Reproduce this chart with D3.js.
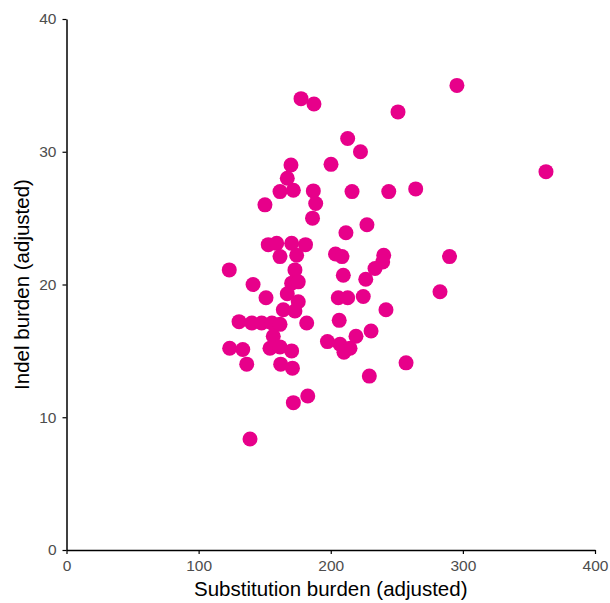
<!DOCTYPE html>
<html><head><meta charset="utf-8">
<script src="https://cdn.jsdelivr.net/npm/d3@7/dist/d3.min.js"></script>
<style>
body{margin:0;background:#fff;}
svg{display:block;font-family:"Liberation Sans",Arial,Helvetica,sans-serif;}
</style></head>
<body>
<svg id="chart" width="610" height="603"></svg>
<script>
const substitution = [177.5,187.3,295.5,250.9,212.8,222.5,200.2,362.9,169.9,167.1,161.6,171.7,186.8,216.1,243.9,264.3,150.2,188.6,186.2,227.4,211.5,152.7,159.1,170.4,180.9,161.6,174.2,203.6,208.5,240.1,239.3,233.5,289.9,123.2,172.9,209.5,226.5,170.4,175.4,141.2,282.7,151.0,167.1,175.4,205.7,212.8,224.6,164.1,172.9,241.8,130.6,140.2,147.7,155.5,161.6,181.8,206.4,156.5,230.5,197.5,219.1,123.5,133.4,154.0,161.6,170.4,207.0,214.6,210.0,136.4,162.1,171.0,257.0,229.2,171.7,182.6,138.9];
const indel = [34.0,33.6,35.0,33.0,31.0,30.0,29.05,28.5,29.0,28.0,27.0,27.1,27.05,27.0,27.0,27.2,26.0,26.1,25.0,24.5,23.9,23.0,23.1,23.1,23.0,22.1,22.2,22.3,22.1,22.2,21.7,21.2,22.1,21.1,21.1,20.7,20.4,20.1,20.2,20.0,19.45,19.0,19.3,18.7,19.0,19.0,19.1,18.1,18.0,18.1,17.2,17.1,17.1,17.1,17.0,17.1,17.3,16.1,16.5,15.7,16.1,15.2,15.1,15.2,15.3,15.0,15.5,15.2,14.9,14.0,14.0,13.7,14.1,13.1,11.1,11.6,8.36];
const xTicks = [0,100,200,300,400];
const yTicks = [0,10,20,30,40];
const xTitle = "Substitution burden (adjusted)";
const yTitle = "Indel burden (adjusted)";

const svg = d3.select("#chart");
const x = d3.scaleLinear().domain([0,400]).range([66.5,595]);
const y = d3.scaleLinear().domain([0,40]).range([550,19]);

const data = substitution.map((v,i)=>({x:v,y:indel[i]}));

svg.append("g").selectAll("circle").data(data).join("circle")
  .attr("cx",d=>x(d.x)).attr("cy",d=>y(d.y)).attr("r",7.5)
  .attr("fill","#e7008a");

const xAxis = svg.append("g").attr("transform","translate(0,550)")
  .call(d3.axisBottom(x).tickValues(xTicks).tickSize(4).tickPadding(6).tickSizeOuter(0));
const yAxis = svg.append("g").attr("transform","translate(66.5,0)")
  .call(d3.axisLeft(y).tickValues(yTicks).tickSize(4).tickPadding(6).tickSizeOuter(0));
[xAxis,yAxis].forEach(g=>{
  g.select(".domain").attr("stroke","#000").attr("stroke-width",1.5);
  g.selectAll(".tick line").attr("stroke","#000").attr("stroke-width",1.2);
  g.selectAll(".tick text").attr("fill","#4d4d4d").style("font-size","15.5px");
});

svg.append("text").attr("x",(66.5+595)/2).attr("y",596)
  .attr("text-anchor","middle").attr("fill","#000").style("font-size","20.5px").text(xTitle);
svg.append("text").attr("transform","translate(29,284.5) rotate(-90)")
  .attr("text-anchor","middle").attr("fill","#000").style("font-size","20.5px").text(yTitle);
</script>
</body></html>
